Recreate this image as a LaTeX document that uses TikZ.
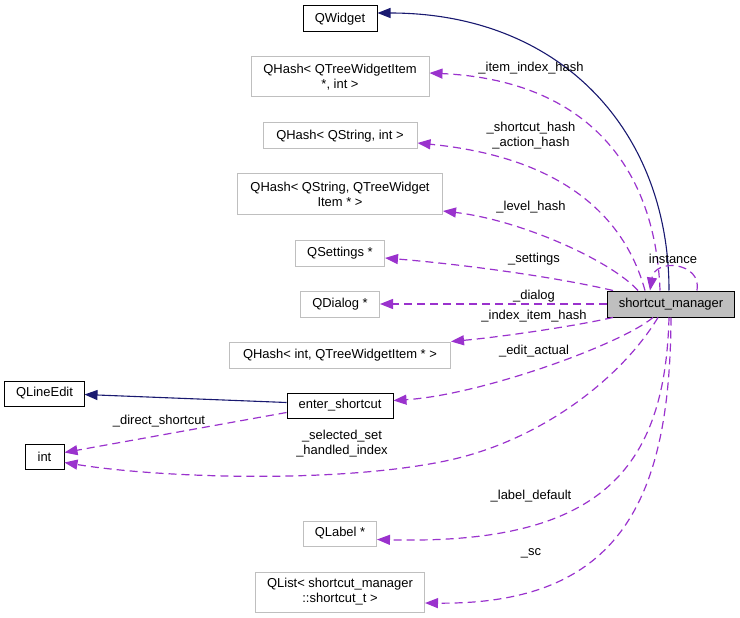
\documentclass[tikz,border=0pt]{standalone}
\usepackage{fontspec}
\setmainfont{Liberation Sans}
\usetikzlibrary{arrows.meta}
\definecolor{edgepurple}{HTML}{9A32CD}
\definecolor{edgenavy}{HTML}{191970}
\definecolor{boxgray}{HTML}{BFBFBF}

\begin{document}
\begin{tikzpicture}[x=1bp, y=-1bp,
        cls/.style={draw=black, line width=1bp, inner sep=0pt, align=center, font=\fontsize{13}{15}\selectfont},
        ext/.style={cls, draw=boxgray},
        cur/.style={cls, fill=boxgray},
        usage/.style={edgepurple, line width=1.2bp, dash pattern=on 8bp off 5bp, -{Triangle[length=13bp,width=10bp]}},
        inherit/.style={edgenavy, line width=1.1bp, -{Triangle[length=13bp,width=10bp]}},
        lbl/.style={align=center, inner sep=0pt, font=\fontsize{13}{15}\selectfont}]
            \useasboundingbox (0,0) rectangle (740,618);

            % classes
            \node[cls, minimum width=74bp, minimum height=26bp] (qwidget) at (340,19) {QWidget};
            \node[ext, minimum width=178bp, minimum height=40bp] (hashitem) at (340,77) {QHash< QTreeWidgetItem\\ *, int >};
            \node[ext, minimum width=154bp, minimum height=26bp] (hashstr) at (340,136) {QHash< QString, int >};
            \node[ext, minimum width=205bp, minimum height=40bp] (hashlevel) at (340,194) {QHash< QString, QTreeWidget\\ Item * >};
            \node[ext, minimum width=89bp, minimum height=26bp] (settings) at (340,253) {QSettings *};
            \node[ext, minimum width=79bp, minimum height=26bp] (dialog) at (340,304) {QDialog *};
            \node[ext, minimum width=221bp, minimum height=26bp] (hashint) at (340,355) {QHash< int, QTreeWidgetItem * >};
            \node[cls, minimum width=79bp, minimum height=25bp] (lineedit) at (44.5,393.5) {QLineEdit};
            \node[cls, minimum width=106bp, minimum height=25bp] (enter) at (340,405.5) {enter\_shortcut};
            \node[cls, minimum width=39bp, minimum height=25bp] (int) at (44.5,456.5) {int};
            \node[ext, minimum width=73bp, minimum height=25bp] (qlabel) at (340,533.5) {QLabel *};
            \node[ext, minimum width=169bp, minimum height=40bp] (qlist) at (340,592) {QList< shortcut\_manager\\ ::shortcut\_t >};
            \node[cur, minimum width=127bp, minimum height=26bp] (manager) at (671,304) {shortcut\_manager};

            % inheritance
            \draw[inherit] ([xshift=-2bp]manager.north) .. controls (669,130) and (560,13) .. ([yshift=6bp]qwidget.east);
            \draw[inherit] ([yshift=3bp]enter.west) -- ([yshift=-1bp]lineedit.east);

            % members
            \draw[usage] ([xshift=-11bp]manager.north) .. controls (655,160) and (580,80) .. ([yshift=4bp]hashitem.east);
            \draw[usage] ([xshift=-26bp]manager.north) .. controls (620,200) and (540,155) .. ([yshift=-7bp]hashstr.east);
            \draw[usage] ([xshift=-33bp]manager.north) .. controls (610,260) and (520,220) .. ([yshift=-17bp]hashlevel.east);
            \draw[usage] ([xshift=-58bp]manager.north) .. controls (560,278) and (470,265) .. ([yshift=-5bp]settings.east);
            \draw[usage] (manager.west) -- (dialog.east);
            \draw[usage] ([xshift=-58bp]manager.south) .. controls (570,327) and (500,337) .. (hashint.north east);
            \draw[usage] ([xshift=-18bp]manager.south) .. controls (620,345) and (480,395) .. ([yshift=5bp]enter.east);
            \draw[usage] ([yshift=-7bp]enter.west) -- ([yshift=4bp]int.east);
            \draw[usage] ([xshift=-13bp]manager.south) .. controls (620,380) and (540,440) .. (450,460)
                .. controls (340,484) and (160,478) .. ([yshift=-6bp]int.east);
            \draw[usage] ([xshift=-2bp]manager.south) .. controls (665,470) and (600,545) .. ([yshift=-6bp]qlabel.east);
            \draw[usage] (manager.south) .. controls (670,500) and (620,605) .. ([yshift=-11bp]qlist.east);
            \draw[usage] ([xshift=26bp]manager.north) .. controls (702,262) and (655,258) .. ([xshift=-21bp]manager.north);

            % member names
            \node[lbl] (litem) at (531,68) {\_item\_index\_hash};
            \node[lbl] (lshort) at (531,135.5) {\_shortcut\_hash\\\_action\_hash};
            \node[lbl] (llevel) at (531,207) {\_level\_hash};
            \node[lbl] (lsettings) at (534,259) {\_settings};
            \node[lbl] (ldialog) at (534,296) {\_dialog};
            \node[lbl] (lindex) at (534,316) {\_index\_item\_hash};
            \node[lbl] (ledit) at (534,351) {\_edit\_actual};
            \node[lbl] (ldirect) at (159,421) {\_direct\_shortcut};
            \node[lbl] (lselected) at (342,444) {\_selected\_set\\\_handled\_index};
            \node[lbl] (llabel) at (531,496) {\_label\_default};
            \node[lbl] (lsc) at (531,553) {\_sc};
            \node[lbl] (linstance) at (673,259) {instance};
        \end{tikzpicture}
\end{document}
